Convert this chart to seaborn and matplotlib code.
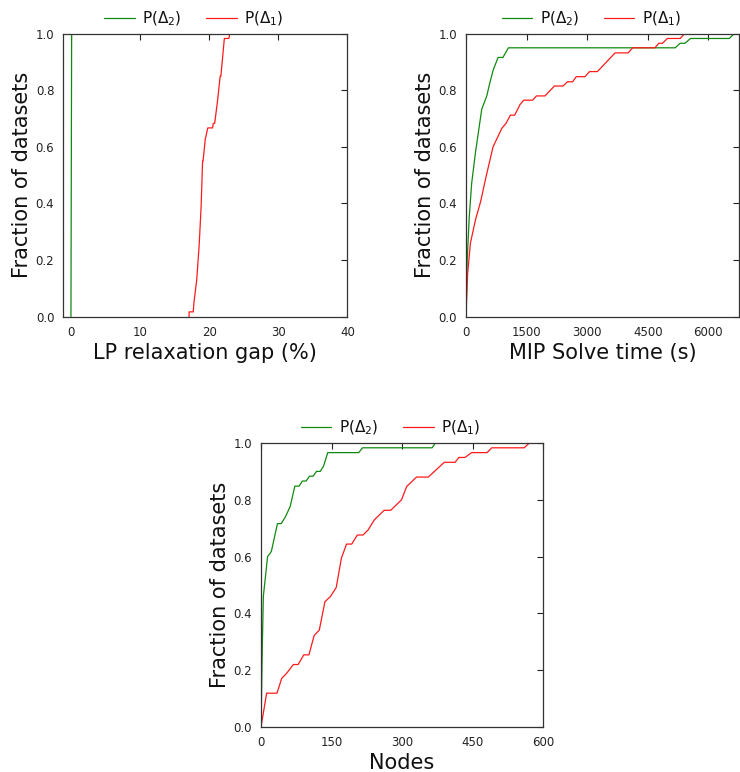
import numpy as np
import pandas as pd
import matplotlib
matplotlib.use("Agg")
import matplotlib.pyplot as plt
import seaborn as sns

# ---------------- data ----------------
# Panel 1: LP relaxation gap (%)
gap_d2_x = [0.0, 0.05, 0.1]
gap_d2_y = [0.0, 0.5, 1.0]
gap_d1_x = [17.1, 17.1, 17.7, 17.8, 18.2, 18.55, 18.84, 19.05, 19.12, 19.45, 19.5, 19.8,
            20.5, 20.6, 20.8, 21.2, 21.6, 21.7, 22.2, 22.85, 23.0]
gap_d1_y = [0.0, 0.017, 0.017, 0.05, 0.13, 0.25, 0.39, 0.55, 0.55, 0.63, 0.633, 0.667,
            0.667, 0.683, 0.683, 0.76, 0.85, 0.85, 0.983, 0.983, 1.0]

# Panel 2: MIP solve time (s)
time_d2_x = [0, 30, 80, 140, 235, 390, 515, 580, 670, 795, 915, 1050, 5180, 5300, 5420,
             5560, 6520, 6640, 6760]
time_d2_y = [0.0, 0.2, 0.35, 0.47, 0.58, 0.733, 0.78, 0.82, 0.87, 0.916, 0.916, 0.95, 0.95,
             0.966, 0.966, 0.983, 0.983, 1.0, 1.0]
time_d1_x = [0, 40, 110, 240, 360, 490, 670, 890, 990, 1100, 1205, 1340, 1430, 1650, 1745,
             1955, 2190, 2400, 2515, 2640, 2730, 2945, 3060, 3255, 3690, 4015, 4125, 4675,
             4775, 4865, 4985, 5305, 5410]
time_d1_y = [0.0, 0.15, 0.26, 0.345, 0.405, 0.49, 0.6, 0.666, 0.683, 0.712, 0.712, 0.75,
             0.765, 0.765, 0.78, 0.78, 0.815, 0.815, 0.83, 0.83, 0.848, 0.848, 0.866, 0.866,
             0.932, 0.932, 0.95, 0.95, 0.966, 0.966, 0.983, 0.983, 1.0]

# Panel 3: Nodes
node_d2_x = [0, 3, 5, 14, 22, 35, 43, 52, 62, 72, 81, 88, 96, 103, 111, 118, 126, 133, 142,
             208, 216, 364, 371]
node_d2_y = [0.0, 0.3, 0.46, 0.6, 0.618, 0.716, 0.716, 0.74, 0.776, 0.848, 0.848, 0.866,
             0.866, 0.883, 0.883, 0.9, 0.9, 0.918, 0.966, 0.966, 0.983, 0.983, 1.0]
node_d1_x = [0, 12, 34, 44, 55, 69, 79, 91, 102, 113, 124, 136, 148, 160, 171, 182, 193,
             205, 217, 228, 241, 262, 276, 299, 310, 331, 356, 390, 413, 421, 434, 448, 481,
             491, 560, 571]
node_d1_y = [0.0, 0.119, 0.119, 0.171, 0.19, 0.22, 0.22, 0.254, 0.254, 0.322, 0.341, 0.441,
             0.46, 0.491, 0.594, 0.644, 0.644, 0.676, 0.676, 0.694, 0.729, 0.763, 0.763,
             0.8, 0.847, 0.88, 0.88, 0.932, 0.932, 0.949, 0.949, 0.966, 0.966, 0.983, 0.983,
             1.0]

labels = [r"P($\Delta_2$)", r"P($\Delta_1$)"]
palette = {labels[0]: "#108a10", labels[1]: "#ff1a1a"}

# ---------------- plotting ----------------
sns.set_theme(style="white")
plt.rcParams["font.family"] = ["DejaVu Sans"]
plt.rcParams["mathtext.fontset"] = "dejavusans"
plt.rcParams["text.color"] = "#111111"
plt.rcParams["axes.labelcolor"] = "#111111"

fig = plt.figure(figsize=(7.4, 7.72), dpi=100)
ax1 = fig.add_axes([0.0856, 0.5898, 0.3838, 0.3666])
ax2 = fig.add_axes([0.6297, 0.5898, 0.3690, 0.3666])
ax3 = fig.add_axes([0.3527, 0.0583, 0.3811, 0.3679])


def make_df(x2, y2, x1, y1):
    d2 = pd.DataFrame({"x": x2, "y": y2, "s": labels[0], "o": np.arange(len(x2))})
    d1 = pd.DataFrame({"x": x1, "y": y1, "s": labels[1], "o": np.arange(len(x1))})
    return pd.concat([d2, d1], ignore_index=True)


panels = [
    (ax1, make_df(gap_d2_x, gap_d2_y, gap_d1_x, gap_d1_y), "LP relaxation gap (%)",
     (-1.1, 40), [0, 10, 20, 30, 40]),
    (ax2, make_df(time_d2_x, time_d2_y, time_d1_x, time_d1_y), "MIP Solve time (s)",
     (0, 6760), [0, 1500, 3000, 4500, 6000]),
    (ax3, make_df(node_d2_x, node_d2_y, node_d1_x, node_d1_y), "Nodes",
     (0, 600), [0, 150, 300, 450, 600]),
]

for ax, df, xlabel, xlim, xticks in panels:
    sns.lineplot(data=df, x="x", y="y", hue="s", palette=palette, sort=False,
                 estimator=None, units="s", linewidth=0.9, ax=ax, legend=True)
    ax.set_xlim(*xlim)
    ax.set_ylim(0, 1)
    ax.set_xticks(xticks)
    ax.set_yticks([0.0, 0.2, 0.4, 0.6, 0.8, 1.0])
    ax.set_yticklabels([f"{v:.1f}" for v in [0.0, 0.2, 0.4, 0.6, 0.8, 1.0]])
    ax.tick_params(direction="in", length=4, width=0.8, top=True, right=True,
                   labelsize=8.5, colors="#222222", pad=6.5)
    for sp in ax.spines.values():
        sp.set_color("#333333")
        sp.set_linewidth(0.9)
    ax.set_xlabel(xlabel, fontsize=15, labelpad=3)
    ax.set_ylabel("Fraction of datasets", fontsize=15, labelpad=2.5)
    handles, labs = ax.get_legend_handles_labels()
    ax.legend(handles, labs, loc="lower center", bbox_to_anchor=(0.46, 1.0), ncol=2,
              frameon=False, fontsize=11, handlelength=2.0, columnspacing=1.6,
              handletextpad=0.5, borderaxespad=0.0)

fig.savefig("out.png", dpi=100)
